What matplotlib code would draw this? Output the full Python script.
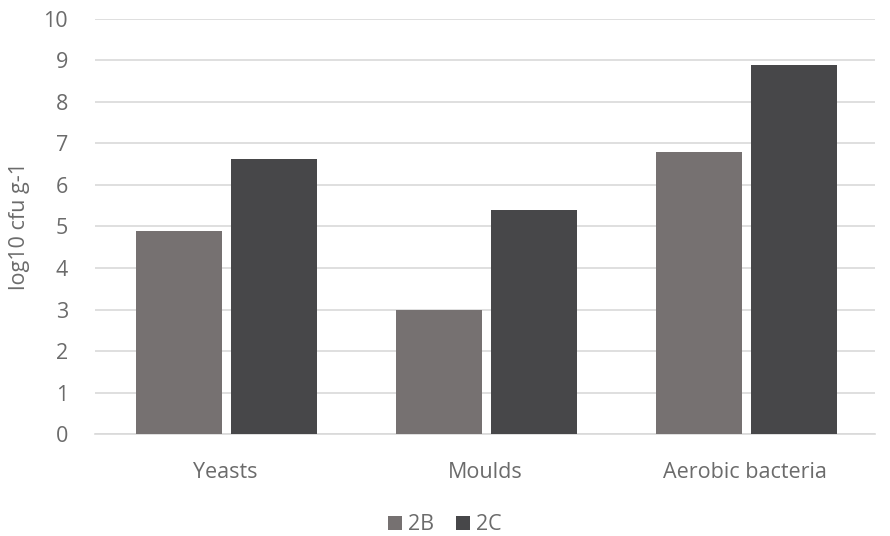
import numpy as np
import matplotlib.pyplot as plt

categories = ['Yeasts', 'Moulds', 'Aerobic bacteria']
series_2b = [4.89, 2.99, 6.79]
series_2c = [6.63, 5.40, 8.89]

plt.rcParams['font.family'] = ['Open Sans', 'DejaVu Sans']
txt = '#6b6b6b'
fs = 15.5

fig = plt.figure(figsize=(8.9, 5.36), dpi=100)
ax = fig.add_axes([0.107, 0.19, 0.876, 0.775])

x = np.arange(len(categories))
w = 0.33
ax.bar(x - 0.178, series_2b, w, color='#767171', label='2B', zorder=3)
ax.bar(x + 0.188, series_2c, w, color='#474749', label='2C', zorder=3)

ax.set_xlim(-0.5, 2.5)
ax.set_ylim(0, 10)
ax.set_yticks(range(0, 11))
ax.set_xticks(x)
ax.set_xticklabels(categories)
ax.grid(axis='y', color='#d9d9d9', linewidth=1.2, zorder=0)
for s in ['top', 'right', 'left']:
    ax.spines[s].set_visible(False)
ax.spines['bottom'].set_color('#d9d9d9')
ax.spines['bottom'].set_linewidth(1.2)
ax.tick_params(length=0, labelsize=fs, colors=txt)
ax.tick_params(axis='x', pad=20)
ax.tick_params(axis='y', pad=19.5)
ax.set_ylabel('log10 cfu g-1', fontsize=fs, color=txt, labelpad=10)

fig.legend(loc='lower center', bbox_to_anchor=(0.5, -0.035), ncol=2, frameon=False,
           fontsize=fs, labelcolor=txt, handlelength=0.65, handleheight=0.65,
           handletextpad=0.3, columnspacing=1.0)

fig.savefig('out.png', dpi=100)
